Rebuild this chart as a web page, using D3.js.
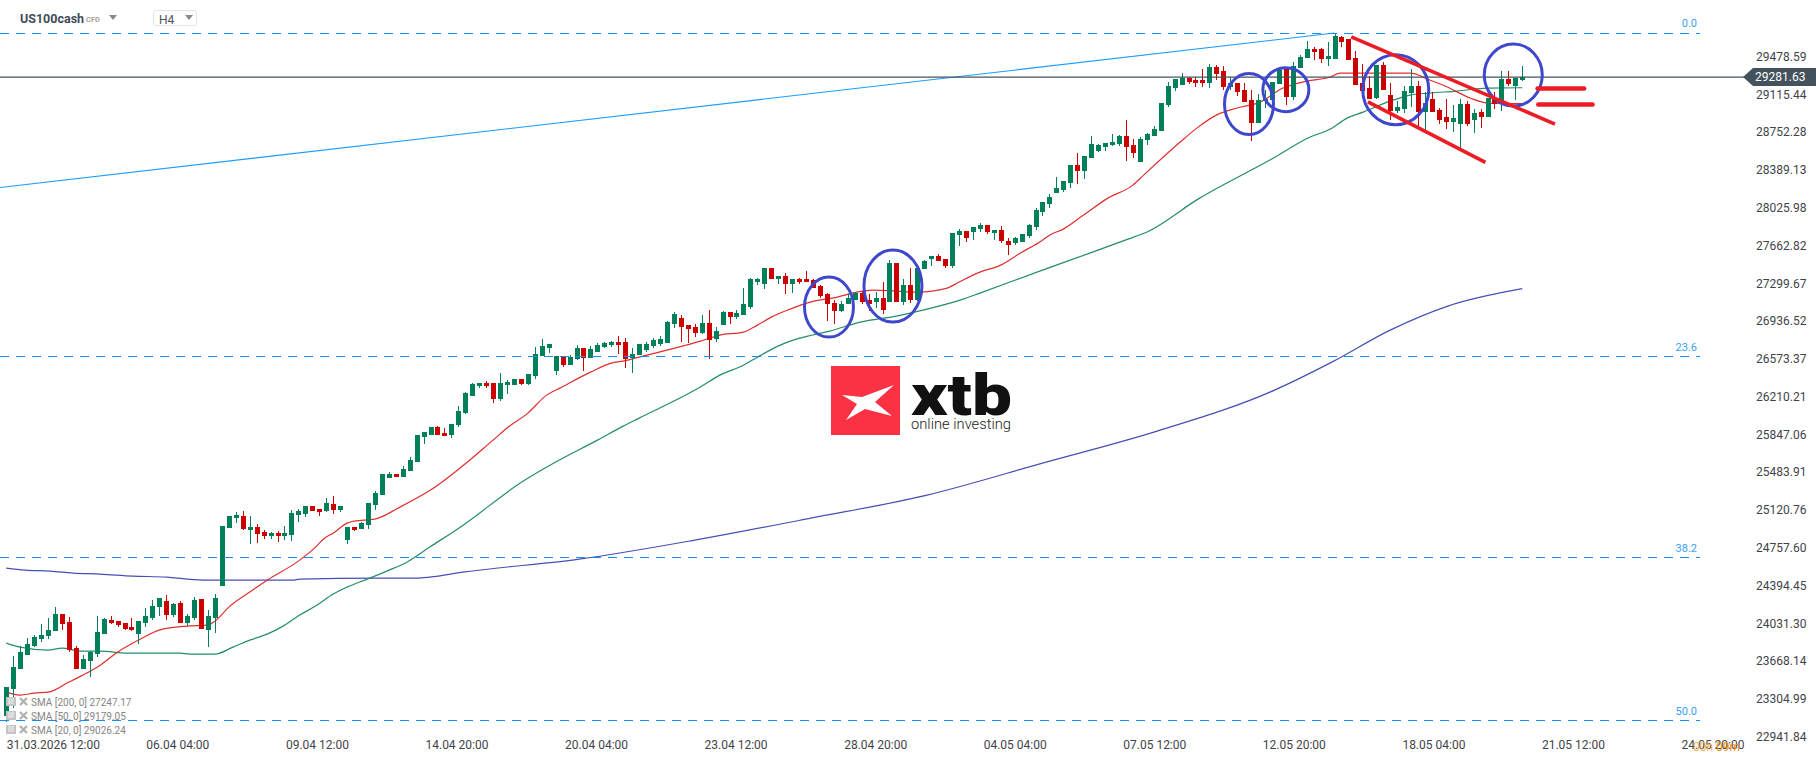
<!DOCTYPE html>
<html>
<head>
<meta charset="utf-8">
<title>US100cash</title>
<script src="https://cdn.jsdelivr.net/npm/d3@7"></script>
<style>
  html, body { margin: 0; padding: 0; background: #fff; }
  svg { display: block; font-family: Roboto, sans-serif; }
</style>
</head>
<body>
<svg id="chart" width="1816" height="761"></svg>
<script>
// H4 candles
const opens = [23138,23397,23590,23724,23811,23878,23907,23955,24118,24042,
23791,23590,23666,23734,23926,24061,24051,24032,23993,23926,
24032,24080,24186,24243,24109,24224,24032,24080,24263,23965,
24080,24388,24945,25041,25061,24926,24955,24907,24868,24897,
24868,24878,25070,25080,25157,25128,25109,25176,25118,24830,
24955,24936,24974,25166,25262,25426,25464,25436,25493,25580,
25820,25839,25916,25859,25839,25935,26051,26214,26311,26340,
26340,26186,26320,26320,26378,26330,26407,26599,26676,26455,
26599,26512,26570,26676,26580,26638,26686,26705,26734,26734,
26580,26609,26657,26695,26714,26724,26907,26964,26897,26878,
26820,26916,26763,26897,27022,26974,26993,27070,27311,27291,
27445,27339,27368,27291,27339,27339,27330,27272,27195,27109,
27032,27099,27138,27205,27138,27118,27157,27118,27493,27118,
27282,27138,27436,27532,27561,27532,27464,27763,27801,27791,
27820,27859,27782,27811,27705,27686,27695,27753,27839,27984,
28061,28166,28195,28262,28435,28378,28503,28570,28609,28628,
28637,28714,28628,28464,28676,28714,28762,29012,29176,29205,
29272,29253,29253,29224,29378,29339,29186,29224,29157,29061,
28839,29051,29061,29214,29359,29089,29368,29464,29551,29551,
29455,29455,29666,29647,29464,29224,29176,29080,29397,29109,
28955,28974,29128,29195,28945,29070,28964,28897,28849,28830,
29022,28868,28945,28897,29070,29041,29262,29195,29253];
const closes = [23416,23609,23753,23830,23897,23917,23965,24118,24022,23772,
23590,23686,23753,23945,24070,24032,24013,23974,23965,24051,
24099,24195,24272,24109,24215,24032,24099,24253,23974,24099,
24272,24964,25061,25070,24936,24955,24888,24868,24897,24868,
24897,25090,25109,25157,25109,25099,25186,25118,25157,24955,
24926,24993,25186,25282,25464,25464,25436,25513,25599,25839,
25868,25916,25839,25830,25945,26070,26243,26330,26340,26311,
26186,26340,26349,26378,26330,26426,26618,26695,26714,26599,
26512,26589,26676,26580,26666,26705,26724,26734,26705,26570,
26618,26714,26714,26753,26763,26926,27003,26878,26859,26820,
26916,26753,26839,27022,26974,27012,27099,27339,27339,27445,
27339,27368,27291,27339,27311,27311,27253,27176,27099,27032,
27099,27157,27205,27118,27099,27157,27041,27493,27118,27282,
27138,27445,27512,27561,27512,27464,27782,27801,27734,27839,
27859,27791,27811,27705,27666,27734,27772,27859,28003,28080,
28128,28214,28282,28435,28378,28522,28637,28628,28647,28657,
28714,28609,28551,28686,28734,28782,29032,29195,29262,29272,
29234,29224,29224,29378,29310,29186,29224,29137,29041,28839,
29061,29070,29234,29349,29089,29387,29474,29551,29522,29455,
29484,29676,29618,29445,29205,29147,29070,29397,29157,28955,
28993,29147,29195,28945,29032,28945,28868,28849,28887,29022,
28830,28935,28897,29080,29022,29262,29214,29272,29282];
const highs = [23416,23714,23811,23888,23917,24022,24080,24186,24118,24090,
23811,23724,23762,24099,24080,24099,24051,24032,24080,24051,
24176,24253,24272,24301,24224,24243,24118,24282,24263,24157,
24311,24964,25061,25099,25109,25061,24984,24926,24907,24917,
24964,25118,25128,25157,25157,25128,25234,25253,25157,24955,
24955,25003,25186,25301,25464,25484,25464,25541,25628,25839,
25868,25916,25926,25907,25945,26118,26253,26340,26340,26359,
26340,26436,26368,26378,26378,26426,26686,26763,26714,26599,
26599,26609,26705,26676,26695,26724,26734,26743,26791,26772,
26676,26714,26734,26772,26791,26936,27022,26993,26897,26907,
26993,27041,26878,27032,27022,27041,27253,27349,27349,27445,
27445,27368,27397,27339,27349,27416,27339,27282,27205,27138,
27128,27195,27215,27224,27195,27215,27311,27522,27493,27339,
27445,27455,27522,27561,27580,27532,27782,27820,27801,27839,
27878,27859,27811,27849,27734,27743,27772,27868,28022,28080,
28157,28320,28282,28435,28551,28522,28714,28637,28647,28734,
28724,28868,28686,28705,28743,28811,29032,29234,29262,29320,
29282,29282,29359,29407,29397,29387,29282,29224,29224,29157,
29118,29157,29234,29349,29359,29426,29493,29628,29570,29560,
29618,29705,29676,29647,29532,29407,29291,29397,29426,29224,
29051,29195,29359,29243,29137,29137,28984,29070,29012,29070,
29051,28974,28974,29080,29137,29339,29339,29272,29387];
const lows = [23080,23214,23590,23724,23801,23849,23878,23955,23965,23753,
23590,23590,23513,23705,23926,24022,23993,23965,23955,23830,
23993,24061,24099,24061,24090,24032,24003,24061,23974,23801,
23936,24388,24945,24993,24926,24792,24801,24840,24840,24811,
24830,24820,25003,25051,25109,25061,25099,25080,25099,24792,
24917,24936,24936,25118,25262,25426,25436,25436,25493,25580,
25753,25839,25839,25830,25811,25916,26041,26214,26291,26291,
26147,26166,26234,26320,26320,26320,26378,26599,26628,26416,
26493,26512,26560,26455,26580,26638,26676,26686,26618,26484,
26436,26609,26638,26676,26695,26724,26868,26734,26724,26782,
26811,26570,26734,26897,26907,26955,26993,27051,27282,27243,
27339,27291,27195,27205,27291,27311,27253,27157,26936,26907,
27022,27099,27138,27099,27032,27061,27003,27118,27118,27089,
27109,27128,27436,27464,27512,27445,27445,27657,27695,27714,
27791,27772,27714,27686,27570,27666,27695,27734,27811,27945,
28022,28166,28176,28214,28253,28301,28503,28560,28570,28618,
28618,28474,28503,28464,28628,28714,28762,28993,29147,29205,
29214,29186,29186,29176,29253,29157,29157,29099,29041,28666,
28839,28984,29061,29214,29012,29061,29368,29464,29445,29416,
29387,29455,29570,29445,29205,29147,29070,29070,29157,28868,
28935,28935,28993,28801,28772,28945,28830,28782,28753,28599,
28811,28743,28791,28897,28974,28955,29195,29061,29243];

// moving averages, sampled at candle positions
const sma20Idx = [0,2,4,6,9,11,13.5,16,19,22,26,29,30,32,35,37.5,42,44,46,47,49,50,53,56.6,61,70,72,75,77.7,79.6,84,87,88.7,91,99.8,102.6,106,108,110,112.7,115.6,119.5,122.3,124.6,128,131,135.3,137,140,143,145.8,149,150,152,154.7,158.4,162,163.7,165.9,168.8,171.2,174,177,180.3,183.6,187,190.4,191.8,201.9,204.7,207.2,210.5,213,218];
const sma20 = [23368,23340,23359,23368,23465,23532,23628,23753,23868,23965,24003,24013,24051,24186,24330,24445,24628,24734,24859,24897,24993,25013,25032,25147,25311,25791,25907,26051,26224,26291,26445,26532,26551,26589,26743,26801,26830,26897,26974,27051,27118,27166,27214,27234,27224,27214,27253,27311,27407,27474,27589,27714,27762,27820,27945,28118,28243,28349,28484,28657,28791,28916,28984,29041,29176,29243,29282,29320,29320,29253,29186,29080,29032,29026];
const sma50Idx = [0,2,6,8,10.6,13.5,17.4,25,26.4,30,32.6,35,37.5,39.8,42.2,44.7,47,49,51.9,54.7,57.6,60.9,65.7,73.9,79,85,88.7,91,99.8,102.6,106,108,111.3,114.1,118.4,122.8,128,131.8,137.6,140,149,155.8,161.3,163.7,171.6,181.7,187.5,190.4,192.8,195.1,199,201.9,204.7,208.6,213,218];
const sma50 = [23840,23801,23772,23791,23763,23763,23743,23743,23734,23734,23801,23868,23926,24003,24109,24205,24311,24378,24455,24532,24618,24763,24974,25378,25580,25791,25926,26003,26301,26416,26512,26589,26705,26772,26839,26926,26984,27041,27147,27205,27426,27589,27724,27782,28118,28484,28705,28782,28887,28945,29051,29109,29128,29147,29176,29179];
const sma200Idx = [0,2.7,6.3,9.6,13.5,18.2,23.1,26,29,41.2,42.2,53.3,59,60.9,65.7,82.4,99,115.7,132.4,149,165.6,182.3,190.6,199,207.3,218];
const sma200 = [24561,24541,24532,24513,24503,24484,24474,24455,24445,24445,24455,24465,24465,24474,24522,24647,24830,25041,25263,25570,25880,26270,26541,26849,27080,27247];

// fibonacci retracement
const fibLevels = ["0.0","23.6","38.2","50.0"];
const fibPrices = [29709,26596,24663,23096];
const fibTrendIdx = [-0.9,191];
const fibTrendPrices = [28220,29705];

// drawn on top by the analyst
const circleIdx = [118.3,127.5,178.7,184,199.8,216.7];
const circlePrices = [27070,27272,29022,29161,29161,29301];
const circleRx = [24.5,29,24.5,23,33,29];
const circleRy = [30,36,30.5,22,35,31];
const redLineIdx = [[193.4,222.7],[195.8,212.7]];
const redLinePrices = [[29669,28830],[29044,28462]];
const redMarkIdx = [[220.2,226.9],[220.3,228.1]];
const redMarkPrices = [29173,29019];

const priceTicks = [29478.59,29115.44,28752.28,28389.13,28025.98,27662.82,27299.67,26936.52,26573.37,26210.21,25847.06,25483.91,25120.76,24757.60,24394.45,24031.30,23668.14,23304.99,22941.84];
const timeLabels = ["31.03.2026 12:00","06.04 04:00","09.04 12:00","14.04 20:00","20.04 04:00","23.04 12:00","28.04 20:00","04.05 04:00","07.05 12:00","12.05 20:00","18.05 04:00","21.05 12:00","24.05 20:00"];
const lastPrice = 29281.63;
const legendRows = ["SMA [200, 0] 27247.17","SMA [50, 0] 29179.05","SMA [20, 0] 29026.24"];

const upColor = "#00805a", downColor = "#cc0000";

const svg = d3.select("#chart");
const x = d3.scaleLinear().domain([0, opens.length - 1]).range([6.3, 1522.3]);
const y = d3.scaleLinear().domain([29478.59, 22941.84]).range([56.6, 736.5]);

// moving averages go under the candles
function drawSma(idx, values, color) {
  const line = d3.line().x(i => x(idx[i])).y(i => y(values[i])).curve(d3.curveMonotoneX);
  svg.append("path").attr("d", line(d3.range(idx.length)))
    .attr("fill", "none").attr("stroke", color).attr("stroke-width", 1.2);
}
drawSma(sma200Idx, sma200, "#4650b2");
drawSma(sma50Idx, sma50, "#258d6b");
drawSma(sma20Idx, sma20, "#e02f2f");

// candles
const candles = svg.append("g").attr("shape-rendering", "crispEdges")
  .selectAll("g").data(d3.range(opens.length)).join("g")
  .attr("fill", i => closes[i] >= opens[i] ? upColor : downColor);
candles.append("rect")
  .attr("x", i => Math.round(x(i)))
  .attr("width", 1)
  .attr("y", i => Math.round(y(highs[i])))
  .attr("height", i => Math.max(1, Math.round(y(lows[i])) - Math.round(y(highs[i]))));
candles.append("rect")
  .attr("x", i => Math.round(x(i)) - 2)
  .attr("width", 5)
  .attr("y", i => Math.round(y(Math.max(opens[i], closes[i]))))
  .attr("height", i => Math.max(1, Math.round(y(Math.min(opens[i], closes[i]))) - Math.round(y(Math.max(opens[i], closes[i])))));

// fib levels
svg.append("line")
  .attr("x1", x(fibTrendIdx[0])).attr("x2", x(fibTrendIdx[1]))
  .attr("y1", y(fibTrendPrices[0])).attr("y2", y(fibTrendPrices[1]))
  .attr("stroke", "#1c9cff").attr("stroke-width", 1.1);
svg.append("g").selectAll("line").data(fibPrices).join("line")
  .attr("x1", 0).attr("x2", 1700)
  .attr("y1", d => Math.round(y(d)) + 0.5).attr("y2", d => Math.round(y(d)) + 0.5)
  .attr("stroke", "#0f8ef5").attr("stroke-width", 1).attr("stroke-dasharray", "9 7");
svg.append("g").selectAll("text").data(fibLevels).join("text")
  .attr("x", 1697).attr("y", (d, i) => y(fibPrices[i]) - 5.5)
  .attr("text-anchor", "end").attr("font-size", 11).attr("fill", "#3aa2f5")
  .text(d => d);

// last price line
svg.append("line")
  .attr("x1", 0).attr("x2", 1745)
  .attr("y1", y(lastPrice)).attr("y2", y(lastPrice))
  .attr("stroke", "#47555f").attr("stroke-width", 1.3);

// logo
const logo = svg.append("g");
logo.append("rect").attr("x", 831).attr("y", 366).attr("width", 69).attr("height", 69).attr("fill", "#fb3144");
logo.append("path")
  .attr("d", "M842,395 L862,397 L894,385 L875,402 L892,416 L865,409 L846,420 L857,404 Z")
  .attr("fill", "#fff");
logo.append("text").attr("x", 911).attr("y", 415)
  .attr("font-size", 58).attr("font-weight", 900).attr("fill", "#111")
  .attr("textLength", 101).attr("lengthAdjust", "spacingAndGlyphs").text("xtb");
logo.append("text").attr("x", 911).attr("y", 429)
  .attr("font-size", 14).attr("font-weight", 300).attr("fill", "#222")
  .attr("textLength", 100).attr("lengthAdjust", "spacingAndGlyphs").text("online investing");

// analyst's circles and lines
svg.append("g").selectAll("ellipse").data(circleIdx).join("ellipse")
  .attr("cx", d => x(d)).attr("cy", (d, i) => y(circlePrices[i]))
  .attr("rx", (d, i) => circleRx[i]).attr("ry", (d, i) => circleRy[i])
  .attr("fill", "none").attr("stroke", "#3f48cc").attr("stroke-width", 3);
svg.append("g").selectAll("line.trend").data(redLineIdx).join("line")
  .attr("x1", d => x(d[0])).attr("x2", d => x(d[1]))
  .attr("y1", (d, i) => y(redLinePrices[i][0])).attr("y2", (d, i) => y(redLinePrices[i][1]))
  .attr("stroke", "#ed1c24").attr("stroke-width", 3.6);
svg.append("g").selectAll("line.mark").data(redMarkIdx).join("line")
  .attr("x1", d => x(d[0])).attr("x2", d => x(d[1]))
  .attr("y1", (d, i) => y(redMarkPrices[i])).attr("y2", (d, i) => y(redMarkPrices[i]))
  .attr("stroke", "#ed1c24").attr("stroke-width", 4.5).attr("stroke-linecap", "round");

// axes
const priceAxis = svg.append("g").attr("transform", "translate(1756,0)")
  .call(d3.axisRight(y).tickValues(priceTicks).tickSize(0).tickPadding(0).tickFormat(d3.format(".2f")));
const timeScale = d3.scalePoint().domain(timeLabels).range([6.3, 1681]);
const timeAxis = svg.append("g").attr("transform", "translate(0,740.5)")
  .call(d3.axisBottom(timeScale).tickSize(0).tickPadding(0));
[priceAxis, timeAxis].forEach(g => {
  g.select(".domain").remove();
  g.selectAll("text").attr("font-family", "Roboto, sans-serif").attr("font-size", 12).attr("fill", "#3f444a");
});
timeAxis.selectAll("text").attr("text-anchor", "start");

// last price tag
const tagY = y(lastPrice);
svg.append("path")
  .attr("d", `M1743,${tagY} L1753,${tagY - 9} L1816,${tagY - 9} L1816,${tagY + 9} L1753,${tagY + 9} Z`)
  .attr("fill", "#44525d");
svg.append("text").attr("x", 1755).attr("y", tagY + 4.3)
  .attr("font-size", 12).attr("fill", "#fff").text(d3.format(".2f")(lastPrice));

// countdown, sits over the last time label
const countdown = svg.append("text").attr("x", 1693).attr("y", 751).attr("font-size", 12);
countdown.append("tspan").attr("fill", "#f3b04f").text("00h ");
countdown.append("tspan").attr("fill", "#f28c00").text("09m");

// header
svg.append("text").attr("x", 20).attr("y", 23).attr("font-size", 12.5).attr("font-weight", 700).attr("fill", "#3f4c59").text("US100cash");
svg.append("text").attr("x", 86).attr("y", 22).attr("font-size", 7.5).attr("font-weight", 700).attr("fill", "#a5a5a5").text("CFD");
svg.append("path").attr("d", "M109,15 L117,15 L113,20 Z").attr("fill", "#8a8a8a");
svg.append("rect").attr("x", 153.5).attr("y", 10.5).attr("width", 43).attr("height", 15).attr("rx", 2)
  .attr("fill", "#fff").attr("stroke", "#e4e4e4");
svg.append("text").attr("x", 159).attr("y", 24).attr("font-size", 12).attr("fill", "#555").text("H4");
svg.append("path").attr("d", "M185,15 L193,15 L189,20 Z").attr("fill", "#8a8a8a");

// indicator legend, bottom left
const legend = svg.append("g").selectAll("g").data(legendRows).join("g")
  .attr("transform", (d, i) => `translate(6,${702 + i * 14})`);
legend.append("rect").attr("x", 0).attr("y", -5).attr("width", 10).attr("height", 9).attr("fill", "#c4c4c4");
legend.append("path").attr("d", "M2,-3 H8 M2,-1 H8 M2,1 H8").attr("stroke", "#fff").attr("stroke-width", 0.8);
legend.append("path").attr("d", "M14,-4 L21,3 M21,-4 L14,3").attr("stroke", "#b0b0b0").attr("stroke-width", 2.2);
legend.append("text").attr("x", 25).attr("y", 4).attr("font-size", 10).attr("fill", "#858585").text(d => d);
</script>
</body>
</html>
